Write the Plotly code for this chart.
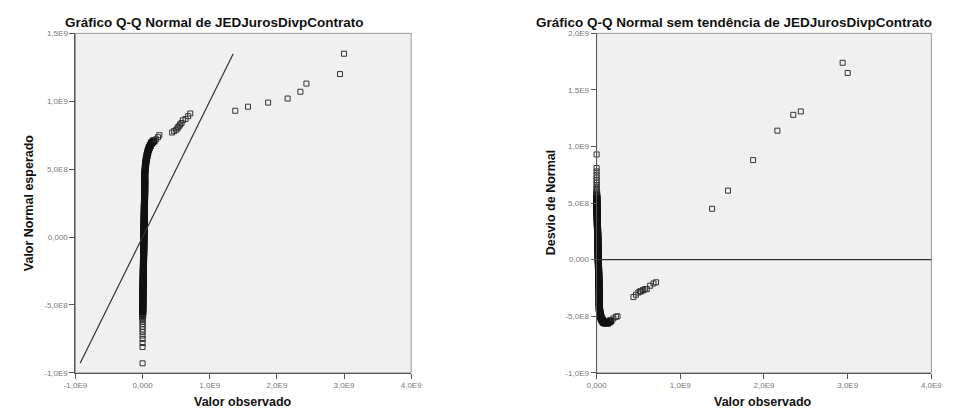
import plotly.graph_objects as go

UNIT = 1e9

# ---- data (units of 1E9) ----
# lower tail (observed ~0, sparse)
obs_tail = [0.0, 0.0, 0.0, 0.0, 0.0, 0.0, 0.0, 0.0, 0.0, 0.0, 0.0, 0.0]
exp_tail = [-0.93, -0.81, -0.78, -0.75, -0.725, -0.70, -0.68, -0.66, -0.64, -0.625,
            -0.61, -0.595]
# dense column near zero (observed ~0, expected normal quantiles)
obs_col = [0.0, 0.0, 0.0,
           0.002, 0.003, 0.002, 0.004, 0.003, 0.002, 0.004, 0.003, 0.005, 0.004,
           0.005, 0.004, 0.006, 0.005, 0.006, 0.007, 0.006, 0.007, 0.008, 0.007,
           0.008, 0.009, 0.008, 0.009, 0.010, 0.009, 0.010, 0.011, 0.010, 0.011,
           0.012, 0.011, 0.012, 0.013, 0.012, 0.013, 0.014, 0.013, 0.014, 0.015,
           0.014, 0.015, 0.016, 0.015, 0.016, 0.017, 0.016, 0.017, 0.018, 0.017,
           0.018, 0.019, 0.018, 0.019, 0.020, 0.019, 0.020, 0.021, 0.020, 0.021,
           0.022, 0.021, 0.022, 0.023, 0.022, 0.023, 0.024, 0.023, 0.024, 0.025,
           0.024, 0.025, 0.026, 0.025, 0.026, 0.027, 0.026, 0.027, 0.028, 0.027,
           0.028, 0.029, 0.028, 0.029, 0.030, 0.029, 0.030, 0.031, 0.030, 0.031,
           0.030, 0.031, 0.032, 0.031, 0.032, 0.031, 0.032, 0.031, 0.032, 0.031,
           0.030, 0.032, 0.035, 0.038, 0.040, 0.043, 0.046, 0.050, 0.054, 0.060, 0.066,
           0.073, 0.080, 0.090, 0.100, 0.115, 0.130, 0.150, 0.170]
exp_col = [-0.58, -0.57, -0.56,
           -0.55, -0.54, -0.53, -0.52, -0.51, -0.50, -0.49, -0.48, -0.47, -0.46,
           -0.45, -0.44, -0.43, -0.42, -0.41, -0.40, -0.39, -0.38, -0.37, -0.36,
           -0.35, -0.34, -0.33, -0.32, -0.31, -0.30, -0.29, -0.28, -0.27, -0.26,
           -0.25, -0.24, -0.23, -0.22, -0.21, -0.20, -0.19, -0.18, -0.17, -0.16,
           -0.15, -0.14, -0.13, -0.12, -0.11, -0.10, -0.09, -0.08, -0.07, -0.06,
           -0.05, -0.04, -0.03, -0.02, -0.01, 0.00, 0.01, 0.02, 0.03, 0.04,
           0.05, 0.06, 0.07, 0.08, 0.09, 0.10, 0.11, 0.12, 0.13, 0.14,
           0.15, 0.16, 0.17, 0.18, 0.19, 0.20, 0.21, 0.22, 0.23, 0.24,
           0.25, 0.26, 0.27, 0.28, 0.29, 0.30, 0.31, 0.32, 0.33, 0.34,
           0.35, 0.36, 0.37, 0.38, 0.39, 0.40, 0.41, 0.42, 0.43, 0.44,
           0.45, 0.465, 0.48, 0.495, 0.51, 0.525, 0.54, 0.555, 0.57, 0.585, 0.60,
           0.615, 0.63, 0.645, 0.66, 0.675, 0.69, 0.70, 0.71]
# end of the bend, middle cluster
obs_mid = [0.20, 0.23, 0.25, 0.44, 0.47, 0.50, 0.52, 0.53, 0.55, 0.56, 0.58, 0.60, 0.64,
           0.68, 0.71]
exp_mid = [0.72, 0.735, 0.75, 0.77, 0.78, 0.79, 0.80, 0.81, 0.82, 0.83, 0.84, 0.86, 0.87,
           0.89, 0.91]
# upper outliers
obs_out = [1.38, 1.57, 1.87, 2.16, 2.35, 2.44, 2.94, 3.00]
exp_out = [0.93, 0.96, 0.99, 1.02, 1.07, 1.13, 1.20, 1.35]

# tick labels
x1_tickvals = [-1, 0, 1, 2, 3, 4]
x1_ticktext = ["-1,0E9", "0,000", "1,0E9", "2,0E9", "3,0E9", "4,0E9"]
y1_tickvals = [-1, -0.5, 0, 0.5, 1, 1.5]
y1_ticktext = ["-1,0E9", "-5,0E8", "0,000", "5,0E8", "1,0E9", "1,5E9"]
x2_tickvals = [0, 1, 2, 3, 4]
x2_ticktext = ["0,000", "1,0E9", "2,0E9", "3,0E9", "4,0E9"]
y2_tickvals = [-1, -0.5, 0, 0.5, 1, 1.5, 2]
y2_ticktext = ["-1,0E9", "-5,0E8", "0,000", "5,0E8", "1,0E9", "1,5E9", "2,0E9"]

# ---- derived ----
obs_c = [v * UNIT for v in obs_col]
exp_c = [v * UNIT for v in exp_col]
obs_s = [v * UNIT for v in obs_tail + obs_mid + obs_out]
exp_s = [v * UNIT for v in exp_tail + exp_mid + exp_out]
dev_c = [o - e for o, e in zip(obs_c, exp_c)]
dev_s = [o - e for o, e in zip(obs_s, exp_s)]
all_exp = exp_c + exp_s

FONT = "Liberation Sans, Arial, sans-serif"
m_dense = dict(symbol="square-open", size=5, color="#111", line=dict(width=2))
m_sparse = dict(symbol="square-open", size=5, color="#333", line=dict(width=1))

fig = go.Figure()
for xs, ys, m, xa, ya in ((obs_c, exp_c, m_dense, "x", "y"), (obs_s, exp_s, m_sparse, "x", "y"),
                          (obs_c, dev_c, m_dense, "x2", "y2"), (obs_s, dev_s, m_sparse, "x2", "y2")):
    fig.add_trace(go.Scatter(x=xs, y=ys, mode="markers", marker=m, xaxis=xa, yaxis=ya,
                             cliponaxis=False, showlegend=False))
fig.add_trace(go.Scatter(x=[min(all_exp), max(all_exp)], y=[min(all_exp), max(all_exp)],
                         mode="lines", line=dict(color="#333", width=1.2), xaxis="x", yaxis="y",
                         showlegend=False))

ax_common = dict(showgrid=False, zeroline=False, showline=True, linecolor="#555",
                 linewidth=1, ticks="outside", ticklen=5, tickcolor="#555",
                 tickfont=dict(family=FONT, size=8, color="#777"), mirror=False)

L0, L1 = 65 / 957, 409 / 957
R0, R1 = 599 / 957, 942 / 957
B, T = 1 - 377 / 416, 1 - 30 / 416

fig.update_layout(
    width=957, height=416, margin=dict(l=0, r=0, t=0, b=0),
    paper_bgcolor="white", plot_bgcolor="#F0F0F0",
    xaxis=dict(domain=[L0, L1], range=[-1 * UNIT, 4 * UNIT], anchor="y",
               tickvals=[v * UNIT for v in x1_tickvals], ticktext=x1_ticktext, **ax_common),
    yaxis=dict(domain=[B, T], range=[-1 * UNIT, 1.5 * UNIT], anchor="x",
               tickvals=[v * UNIT for v in y1_tickvals], ticktext=y1_ticktext, **ax_common),
    xaxis2=dict(domain=[R0, R1], range=[0, 4 * UNIT], anchor="y2",
                tickvals=[v * UNIT for v in x2_tickvals], ticktext=x2_ticktext, **ax_common),
    yaxis2=dict(domain=[B, T], range=[-1 * UNIT, 2 * UNIT], anchor="x2",
                tickvals=[v * UNIT for v in y2_tickvals], ticktext=y2_ticktext, **ax_common),
)

# frames (top/right light border)
for xr, yr in (("x domain", "y domain"), ("x2 domain", "y2 domain")):
    fig.add_shape(type="rect", xref=xr, yref=yr, x0=0, x1=1, y0=0, y1=1,
                  line=dict(color="#999", width=1), layer="below")
# zero line of detrended plot
fig.add_shape(type="line", xref="x2 domain", yref="y2", x0=0, x1=1, y0=0, y1=0,
              line=dict(color="#333", width=1.2))

title_font = dict(family=FONT, size=13.5, color="#111")
lab_font = dict(family=FONT, size=12.5, color="#111")
ann = [
    dict(text="<b>Gráfico Q-Q Normal de JEDJurosDivpContrato</b>", x=207 / 957, y=1 - 19 / 416,
         font=title_font),
    dict(text="<b>Gráfico Q-Q Normal sem tendência de JEDJurosDivpContrato</b>", x=740 / 957,
         y=1 - 19 / 416, font=title_font),
    dict(text="<b>Valor observado</b>", x=237 / 957, y=1 - 407 / 416, font=lab_font),
    dict(text="<b>Valor observado</b>", x=770 / 957, y=1 - 407 / 416, font=lab_font),
    dict(text="<b>Valor Normal esperado</b>", x=17 / 957, y=1 - 203 / 416, font=lab_font,
         textangle=-90),
    dict(text="<b>Desvio de Normal</b>", x=552 / 957, y=1 - 203 / 416, font=lab_font,
         textangle=-90),
]
for a in ann:
    fig.add_annotation(xref="paper", yref="paper", showarrow=False,
                       xanchor="center", yanchor="middle", **a)

fig.write_html("out.html")
